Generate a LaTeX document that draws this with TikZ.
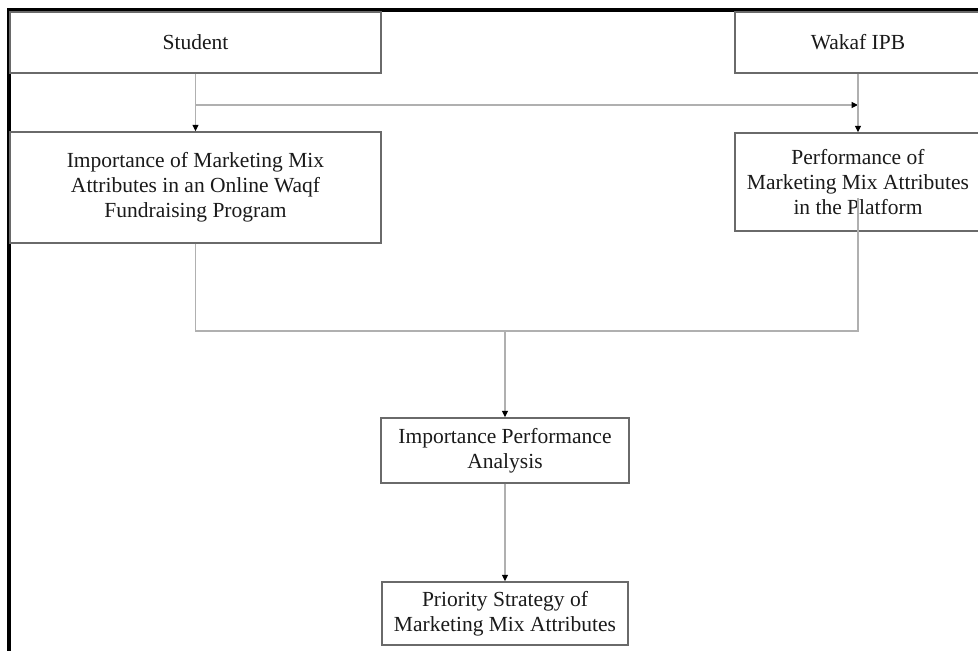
\documentclass[tikz,border=0pt]{standalone}
\usepackage{fontspec}
\setmainfont{Liberation Serif}
\usetikzlibrary{arrows.meta}
\definecolor{boxline}{HTML}{6A6A6A}
\definecolor{connline}{HTML}{B0B0B0}
\definecolor{txt}{HTML}{1A1A1A}
\begin{document}
\begin{tikzpicture}[x=1pt,y=-1pt,
  box/.style={draw=boxline,line width=1.4pt,rectangle,inner sep=0pt,align=center,
    text=txt,font=\fontsize{21.5}{25}\selectfont},
  conn/.style={draw=connline,line width=1.1pt},
  arr/.style={conn,-{Triangle[length=6.5pt,width=6pt,color=black]}}]
\clip (0,0) rectangle (978,651);
\fill[white] (0,0) rectangle (978,651);
% outer frame
\draw[black,line width=3.2pt] (9,700) -- (9,10) -- (1000,10);
% boxes
\node[box,minimum width=371pt,minimum height=61pt] (student) at (195.5,42.5) {Student};
\node[box,minimum width=246pt,minimum height=61pt] (wakaf) at (858,42.5) {Wakaf IPB};
\node[box,minimum width=371pt,minimum height=111pt] (imp) at (195.5,187.5)
  {Importance of Marketing Mix\\Attributes in an Online Waqf\\Fundraising Program};
\node[box,minimum width=246pt,minimum height=98pt] (perf) at (858,182)
  {Performance of\\Marketing Mix Attributes\\in the Platform};
\node[box,minimum width=248pt,minimum height=65pt] (ipa) at (505,450.5)
  {Importance Performance\\Analysis};
\node[box,minimum width=246pt,minimum height=63pt] (prio) at (505,613.5)
  {Priority Strategy of\\Marketing Mix Attributes};
% junction coordinates
\coordinate (j1) at (195.5,105);
\coordinate (j2) at (858,105);
\coordinate (p1) at (858,198);
\coordinate (m1) at (195.5,331);
\coordinate (m2) at (858,331);
\coordinate (m3) at (505,331);
% connectors
\draw[arr] (student) -- (imp);
\draw[arr] (j1) -- (j2);
\draw[arr] (wakaf) -- (perf);
\draw[conn] (imp.south) -- (m1) -- (m2) -- (p1);
\draw[arr] (m3) -- (ipa);
\draw[arr] (ipa) -- (prio);
\end{tikzpicture}
\end{document}
